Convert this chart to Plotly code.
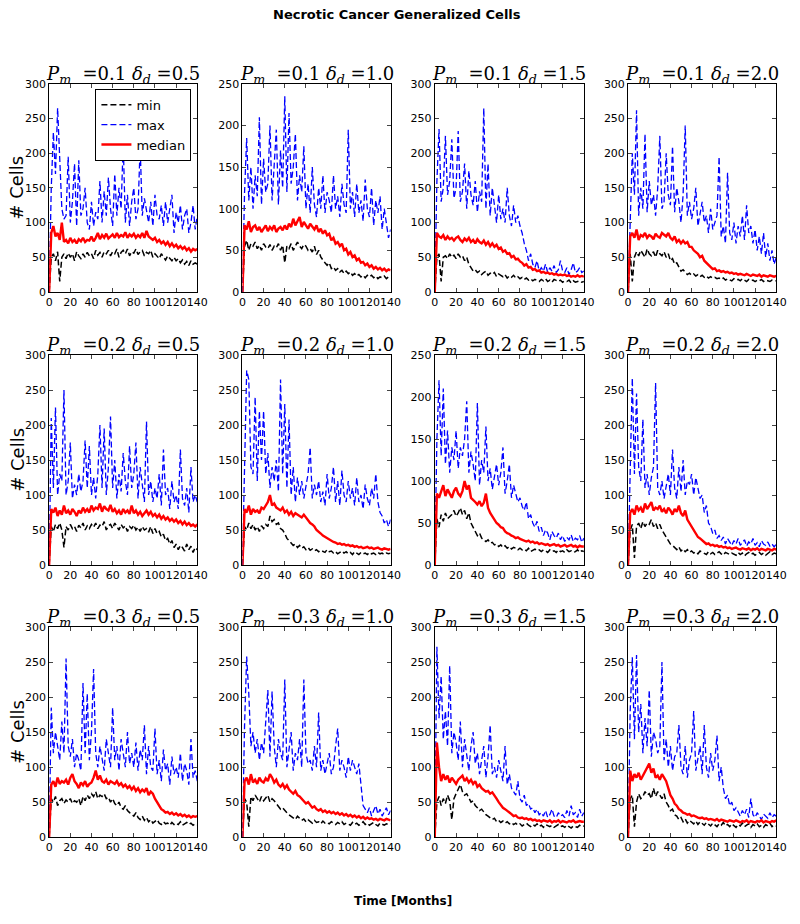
import plotly.graph_objects as go

months = list(range(0, 141, 2))

# ---------------- P_m = 0.1 ----------------
min_01_05 = [0, 50, 55, 45, 58, 15, 50, 55, 48, 56, 50, 55, 45, 58, 52, 48, 55, 50, 57, 52, 55, 48, 60, 53, 57, 50, 58, 55, 60, 52, 58, 55, 62, 50, 57, 60, 55, 62, 52, 58, 56, 62, 54, 58, 60, 52, 57, 55, 60, 50, 55, 52, 48, 55, 50, 46, 52, 48, 45, 50, 45, 48, 42, 46, 40, 44, 38, 45, 40, 42, 40]
max_01_05 = [0, 150, 230, 170, 265, 200, 120, 105, 110, 195, 100, 130, 185, 95, 190, 110, 120, 150, 100, 90, 130, 95, 115, 105, 160, 100, 145, 110, 165, 120, 95, 170, 110, 150, 120, 215, 100, 140, 95, 130, 150, 105, 120, 210, 110, 135, 115, 100, 130, 95, 140, 110, 105, 125, 95, 130, 100, 120, 140, 85, 115, 100, 125, 90, 110, 120, 85, 100, 125, 90, 110]
med_01_05 = [0, 85, 95, 80, 85, 75, 100, 72, 75, 70, 78, 72, 75, 70, 76, 73, 78, 72, 75, 74, 80, 73, 78, 85, 76, 82, 78, 84, 77, 80, 83, 78, 85, 79, 82, 80, 86, 78, 83, 80, 84, 78, 82, 79, 85, 78, 88, 80, 78, 75, 78, 72, 75, 70, 73, 68, 72, 66, 70, 65, 68, 63, 66, 62, 65, 60, 63, 58, 62, 60, 62]

min_01_10 = [0, 55, 62, 50, 58, 55, 60, 52, 56, 50, 58, 54, 52, 57, 50, 55, 53, 58, 50, 56, 35, 55, 52, 58, 50, 56, 60, 55, 52, 57, 55, 50, 52, 48, 55, 45, 50, 42, 38, 35, 32, 35, 28, 30, 26, 28, 24, 26, 22, 25, 22, 24, 20, 22, 19, 21, 18, 20, 17, 20, 18, 20, 17, 19, 16, 18, 17, 19, 16, 18, 18]
max_01_10 = [0, 120, 185, 110, 150, 100, 140, 115, 210, 105, 160, 120, 130, 200, 110, 150, 195, 105, 170, 125, 235, 120, 215, 130, 150, 190, 110, 140, 120, 175, 100, 130, 95, 150, 105, 90, 125, 100, 140, 95, 120, 110, 95, 140, 100, 115, 90, 130, 105, 95, 195, 100, 120, 90, 130, 95, 110, 85, 135, 100, 90, 125, 80, 110, 95, 115, 75, 100, 80, 65, 75]
med_01_10 = [0, 80, 75, 85, 72, 78, 80, 74, 78, 72, 76, 80, 73, 78, 75, 80, 72, 76, 78, 74, 80, 75, 82, 78, 88, 80, 85, 90, 78, 84, 80, 76, 82, 78, 75, 80, 72, 76, 70, 74, 68, 70, 62, 65, 58, 60, 55, 58, 50, 52, 45, 48, 42, 44, 38, 40, 35, 36, 32, 34, 30, 32, 28, 30, 27, 29, 26, 28, 25, 27, 26]

min_01_15 = [0, 50, 55, 15, 50, 52, 48, 55, 50, 53, 48, 55, 50, 52, 45, 50, 40, 35, 30, 32, 28, 30, 25, 28, 30, 24, 27, 25, 28, 22, 26, 24, 22, 25, 20, 23, 21, 24, 20, 22, 19, 21, 18, 20, 17, 19, 16, 18, 17, 15, 18, 16, 19, 15, 17, 14, 18, 16, 15, 17, 14, 16, 15, 17, 13, 16, 14, 15, 16, 14, 15]
max_01_15 = [0, 160, 235, 130, 150, 225, 140, 160, 220, 135, 150, 232, 130, 145, 185, 120, 175, 140, 125, 160, 115, 145, 130, 265, 120, 185, 110, 150, 125, 100, 140, 105, 120, 100, 150, 110, 95, 125, 100, 110, 95, 85, 70, 60, 45, 55, 40, 35, 45, 30, 35, 30, 40, 28, 35, 30, 38, 28, 32, 45, 30, 28, 35, 25, 32, 42, 28, 30, 35, 28, 30]
med_01_15 = [0, 85, 80, 78, 82, 75, 80, 76, 78, 74, 78, 80, 75, 72, 77, 74, 78, 72, 75, 70, 76, 72, 70, 74, 68, 72, 66, 70, 65, 68, 62, 64, 58, 60, 55, 56, 50, 52, 47, 48, 44, 42, 38, 40, 35, 36, 32, 33, 30, 31, 28, 29, 27, 28, 26, 27, 25, 26, 24, 25, 24, 25, 23, 24, 22, 23, 22, 24, 22, 23, 22]

min_01_20 = [0, 55, 15, 50, 58, 52, 60, 55, 50, 62, 55, 52, 58, 50, 60, 55, 52, 58, 50, 55, 45, 48, 40, 42, 35, 30, 32, 28, 25, 27, 24, 26, 23, 25, 22, 24, 21, 23, 20, 22, 20, 21, 19, 20, 18, 20, 17, 19, 18, 16, 19, 17, 18, 16, 19, 17, 15, 18, 16, 17, 15, 17, 16, 18, 15, 17, 16, 15, 17, 16, 16]
max_01_20 = [0, 110, 200, 140, 262, 110, 150, 120, 228, 115, 160, 125, 140, 110, 150, 225, 120, 130, 200, 140, 125, 210, 115, 150, 130, 100, 140, 240, 110, 130, 105, 120, 150, 95, 115, 130, 100, 110, 85, 120, 90, 100, 110, 195, 80, 95, 70, 172, 85, 75, 100, 70, 95, 80, 110, 75, 125, 85, 95, 70, 90, 60, 80, 55, 85, 50, 70, 45, 60, 40, 50]
med_01_20 = [0, 80, 85, 78, 90, 75, 82, 80, 85, 78, 82, 80, 76, 84, 80, 78, 85, 82, 80, 85, 78, 75, 80, 72, 75, 70, 74, 70, 72, 65, 65, 60, 58, 55, 50, 52, 45, 42, 38, 36, 33, 34, 30, 31, 29, 30, 28, 29, 27, 28, 26, 27, 25, 26, 25, 24, 26, 24, 23, 25, 24, 23, 25, 22, 24, 23, 22, 24, 23, 22, 23]

# ---------------- P_m = 0.2 ----------------
min_02_05 = [0, 55, 48, 58, 52, 60, 50, 25, 55, 50, 58, 52, 55, 48, 57, 53, 60, 50, 56, 52, 58, 54, 60, 52, 57, 55, 62, 50, 56, 58, 52, 60, 55, 50, 58, 53, 56, 48, 55, 52, 57, 50, 54, 48, 55, 50, 52, 47, 55, 45, 52, 45, 48, 40, 44, 35, 38, 30, 35, 25, 30, 22, 28, 25, 20, 30, 22, 27, 18, 25, 22]
max_02_05 = [0, 210, 110, 225, 100, 130, 120, 250, 100, 120, 175, 95, 115, 100, 130, 105, 120, 178, 110, 170, 100, 125, 95, 130, 200, 110, 195, 100, 140, 212, 110, 150, 95, 130, 105, 160, 120, 100, 170, 110, 130, 175, 95, 140, 115, 90, 205, 100, 120, 90, 110, 95, 130, 85, 165, 100, 110, 80, 120, 90, 100, 80, 165, 95, 85, 110, 75, 140, 90, 100, 90]
med_02_05 = [0, 80, 75, 82, 70, 78, 72, 85, 74, 78, 72, 80, 76, 70, 78, 74, 82, 76, 80, 75, 85, 78, 82, 80, 88, 76, 84, 80, 78, 86, 76, 80, 74, 78, 72, 80, 75, 78, 73, 85, 74, 78, 72, 76, 70, 74, 78, 72, 76, 70, 73, 68, 72, 66, 70, 65, 68, 63, 66, 62, 65, 60, 63, 58, 62, 57, 60, 56, 58, 55, 58]

min_02_10 = [0, 55, 50, 60, 52, 58, 50, 55, 48, 56, 52, 58, 55, 70, 62, 65, 58, 60, 52, 50, 45, 38, 35, 32, 28, 30, 25, 28, 24, 26, 22, 25, 21, 23, 20, 22, 19, 21, 20, 18, 22, 19, 20, 17, 19, 16, 18, 20, 17, 19, 16, 18, 15, 19, 17, 15, 18, 16, 17, 15, 18, 16, 17, 15, 18, 16, 17, 15, 17, 16, 17]
max_02_10 = [0, 150, 278, 265, 140, 130, 240, 120, 220, 150, 220, 130, 160, 110, 140, 120, 150, 105, 265, 130, 230, 110, 208, 100, 140, 90, 125, 100, 120, 95, 110, 130, 168, 95, 115, 100, 120, 90, 105, 85, 130, 95, 110, 140, 90, 120, 85, 135, 100, 90, 120, 95, 110, 85, 125, 90, 100, 80, 115, 95, 85, 110, 95, 130, 90, 75, 70, 60, 65, 55, 65]
med_02_10 = [0, 80, 75, 85, 72, 80, 76, 78, 74, 82, 80, 85, 90, 100, 85, 88, 82, 80, 78, 82, 75, 78, 72, 76, 70, 74, 72, 70, 68, 72, 68, 65, 60, 58, 55, 50, 48, 45, 42, 40, 38, 36, 35, 33, 32, 30, 31, 29, 30, 28, 29, 27, 28, 26, 27, 25, 26, 24, 25, 26, 24, 25, 23, 24, 25, 23, 22, 24, 23, 22, 23]

min_02_15 = [0, 55, 45, 60, 52, 62, 55, 58, 60, 65, 58, 62, 68, 60, 65, 55, 62, 50, 45, 40, 35, 38, 32, 30, 28, 30, 26, 27, 24, 25, 22, 24, 21, 23, 20, 22, 19, 21, 20, 18, 20, 18, 19, 17, 20, 16, 18, 19, 17, 18, 16, 18, 17, 15, 18, 16, 17, 15, 18, 16, 17, 15, 18, 16, 17, 15, 16, 18, 15, 17, 16]
max_02_15 = [0, 150, 220, 130, 210, 120, 160, 110, 140, 125, 160, 115, 140, 130, 150, 195, 110, 135, 120, 100, 193, 95, 125, 110, 165, 100, 115, 90, 105, 120, 95, 110, 140, 85, 100, 120, 80, 95, 85, 75, 80, 70, 65, 75, 55, 60, 50, 45, 52, 40, 45, 35, 42, 38, 30, 40, 35, 32, 38, 30, 35, 28, 33, 30, 36, 28, 32, 30, 35, 27, 32]
med_02_15 = [0, 85, 80, 88, 95, 82, 90, 85, 80, 88, 92, 85, 82, 88, 100, 90, 95, 80, 78, 75, 72, 76, 70, 74, 85, 68, 62, 58, 55, 50, 48, 45, 44, 40, 38, 37, 35, 34, 32, 33, 31, 30, 29, 28, 29, 27, 28, 26, 27, 25, 26, 25, 24, 25, 23, 24, 25, 23, 24, 22, 23, 24, 22, 23, 24, 22, 23, 21, 23, 22, 22]

min_02_20 = [0, 50, 58, 10, 55, 60, 52, 62, 55, 60, 58, 65, 55, 60, 52, 58, 50, 45, 40, 35, 30, 28, 25, 22, 26, 20, 23, 19, 22, 18, 20, 17, 19, 16, 20, 18, 17, 15, 19, 16, 18, 15, 17, 19, 16, 14, 18, 16, 15, 17, 16, 14, 18, 15, 17, 13, 16, 18, 15, 17, 14, 16, 18, 15, 17, 14, 16, 19, 15, 17, 16]
max_02_20 = [0, 150, 267, 130, 245, 140, 120, 208, 110, 130, 100, 125, 140, 260, 110, 100, 120, 95, 115, 130, 100, 165, 110, 95, 140, 105, 150, 100, 120, 115, 130, 100, 125, 110, 95, 100, 75, 85, 60, 55, 45, 50, 38, 42, 35, 40, 30, 38, 33, 28, 35, 30, 38, 28, 32, 36, 27, 33, 30, 38, 28, 32, 26, 35, 30, 28, 33, 27, 30, 26, 30]
med_02_20 = [0, 75, 80, 72, 85, 78, 82, 75, 88, 80, 85, 90, 78, 82, 80, 85, 76, 80, 74, 82, 78, 72, 80, 76, 85, 74, 70, 78, 65, 60, 55, 50, 45, 40, 38, 35, 33, 30, 31, 28, 29, 27, 28, 26, 27, 25, 26, 24, 25, 23, 24, 25, 23, 22, 24, 23, 22, 24, 21, 23, 22, 24, 21, 23, 22, 21, 23, 22, 21, 23, 22]

# ---------------- P_m = 0.3 ----------------
min_03_05 = [0, 55, 50, 58, 45, 52, 55, 48, 53, 50, 55, 48, 52, 50, 55, 45, 58, 52, 60, 55, 62, 58, 65, 55, 60, 58, 62, 55, 57, 50, 55, 48, 45, 50, 42, 40, 45, 38, 35, 32, 30, 35, 28, 25, 30, 24, 28, 22, 25, 20, 23, 25, 20, 18, 22, 19, 20, 17, 21, 18, 20, 18, 22, 17, 19, 21, 18, 20, 17, 19, 18]
max_03_05 = [0, 185, 120, 150, 130, 110, 165, 120, 255, 130, 115, 140, 100, 120, 110, 95, 220, 120, 205, 110, 150, 240, 120, 100, 130, 110, 95, 140, 120, 100, 185, 110, 130, 95, 140, 120, 100, 150, 105, 120, 100, 135, 95, 125, 110, 160, 90, 130, 100, 95, 155, 90, 110, 80, 125, 95, 105, 75, 115, 90, 100, 85, 120, 80, 105, 95, 75, 140, 85, 95, 80]
med_03_05 = [0, 75, 80, 72, 85, 76, 80, 78, 82, 75, 85, 90, 80, 76, 70, 78, 74, 80, 72, 76, 78, 85, 95, 82, 88, 80, 78, 82, 75, 80, 78, 76, 80, 74, 77, 72, 75, 70, 73, 68, 72, 66, 70, 64, 68, 65, 70, 60, 65, 62, 55, 50, 45, 40, 38, 35, 36, 33, 35, 32, 34, 31, 33, 30, 32, 29, 31, 28, 30, 29, 30]

min_03_10 = [0, 55, 50, 15, 58, 52, 60, 55, 50, 58, 52, 56, 60, 50, 55, 52, 48, 45, 40, 42, 38, 35, 32, 30, 28, 25, 30, 27, 24, 26, 22, 25, 23, 20, 24, 21, 22, 19, 23, 20, 21, 19, 22, 20, 18, 21, 19, 22, 18, 20, 19, 17, 21, 18, 20, 17, 19, 22, 18, 20, 17, 19, 21, 18, 16, 20, 18, 17, 19, 18, 19]
max_03_10 = [0, 160, 258, 205, 130, 150, 120, 140, 110, 135, 120, 160, 210, 115, 208, 130, 100, 140, 120, 110, 225, 100, 130, 150, 95, 120, 110, 140, 100, 225, 120, 105, 110, 95, 130, 100, 178, 95, 110, 90, 105, 120, 90, 100, 130, 155, 95, 110, 100, 85, 115, 95, 110, 100, 90, 105, 70, 45, 40, 35, 42, 30, 38, 45, 33, 40, 30, 36, 42, 32, 38]
med_03_10 = [0, 80, 85, 75, 90, 78, 82, 76, 85, 80, 78, 84, 80, 90, 85, 78, 82, 75, 72, 76, 70, 74, 68, 65, 62, 66, 60, 58, 55, 52, 48, 50, 45, 42, 44, 40, 38, 40, 36, 38, 35, 37, 34, 36, 33, 35, 32, 34, 31, 33, 30, 32, 29, 31, 28, 30, 27, 29, 26, 28, 26, 27, 25, 26, 24, 26, 25, 24, 26, 25, 24]

min_03_15 = [0, 50, 58, 45, 55, 48, 60, 52, 25, 55, 62, 70, 75, 65, 60, 62, 55, 50, 52, 45, 42, 38, 40, 35, 32, 30, 28, 25, 27, 22, 24, 21, 23, 20, 22, 19, 21, 18, 20, 17, 19, 16, 18, 20, 17, 15, 18, 16, 19, 15, 17, 14, 18, 16, 15, 17, 14, 16, 18, 15, 16, 14, 17, 15, 13, 16, 15, 14, 17, 15, 16]
max_03_15 = [0, 272, 170, 230, 140, 180, 130, 245, 120, 150, 135, 110, 165, 100, 140, 120, 95, 130, 150, 105, 120, 90, 110, 130, 85, 115, 160, 90, 100, 85, 110, 95, 80, 130, 75, 90, 70, 65, 60, 80, 55, 50, 60, 45, 48, 40, 42, 35, 40, 32, 35, 30, 38, 28, 32, 40, 30, 28, 35, 30, 32, 28, 38, 30, 45, 32, 35, 28, 40, 30, 35]
med_03_15 = [0, 135, 100, 80, 90, 82, 88, 78, 85, 80, 76, 82, 85, 88, 80, 84, 78, 82, 76, 80, 72, 75, 70, 68, 65, 66, 62, 64, 60, 55, 50, 45, 42, 40, 38, 35, 33, 30, 31, 28, 27, 28, 26, 27, 25, 26, 24, 25, 23, 24, 22, 24, 23, 22, 24, 21, 23, 22, 24, 21, 23, 22, 21, 23, 22, 24, 21, 22, 23, 22, 22]

min_03_20 = [0, 55, 60, 15, 50, 62, 55, 58, 65, 60, 62, 55, 70, 58, 65, 60, 55, 62, 50, 45, 38, 40, 32, 30, 25, 28, 22, 26, 20, 24, 21, 19, 23, 18, 22, 20, 17, 21, 19, 16, 20, 18, 15, 19, 17, 21, 16, 18, 15, 19, 17, 14, 18, 16, 20, 15, 17, 19, 14, 18, 16, 19, 15, 17, 14, 18, 16, 20, 15, 17, 16]
max_03_20 = [0, 180, 257, 140, 260, 150, 190, 120, 170, 130, 210, 115, 150, 140, 120, 130, 250, 110, 140, 100, 130, 95, 115, 120, 160, 100, 90, 130, 85, 110, 120, 180, 95, 110, 130, 90, 160, 100, 85, 120, 95, 110, 145, 80, 100, 70, 55, 60, 45, 50, 38, 42, 35, 30, 38, 32, 40, 28, 55, 32, 28, 35, 30, 25, 33, 30, 27, 35, 28, 32, 30]
med_03_20 = [0, 95, 80, 90, 85, 92, 82, 88, 95, 100, 105, 92, 98, 85, 88, 82, 90, 85, 80, 70, 60, 55, 48, 45, 40, 38, 35, 34, 32, 33, 30, 31, 29, 28, 27, 28, 26, 27, 25, 26, 25, 24, 26, 23, 25, 24, 23, 22, 24, 23, 22, 24, 23, 21, 23, 22, 24, 21, 23, 22, 21, 23, 22, 24, 21, 23, 22, 21, 23, 22, 24]

pm_labels = ["0.1", "0.2", "0.3"]
dd_labels = ["0.5", "1.0", "1.5", "2.0"]
y_tops = [[300, 250, 300, 300], [300, 300, 250, 300], [300, 300, 300, 300]]
x_ticks = [0, 20, 40, 60, 80, 100, 120, 140]

grid = [
    [(min_01_05, max_01_05, med_01_05), (min_01_10, max_01_10, med_01_10),
     (min_01_15, max_01_15, med_01_15), (min_01_20, max_01_20, med_01_20)],
    [(min_02_05, max_02_05, med_02_05), (min_02_10, max_02_10, med_02_10),
     (min_02_15, max_02_15, med_02_15), (min_02_20, max_02_20, med_02_20)],
    [(min_03_05, max_03_05, med_03_05), (min_03_10, max_03_10, med_03_10),
     (min_03_15, max_03_15, med_03_15), (min_03_20, max_03_20, med_03_20)],
]

W, H = 800, 924
col_px = [(46, 197), (243, 394), (439, 591), (636, 787)]
row_px = [(79, 290), (354, 567), (630, 843)]

fig = go.Figure()
layout = dict(
    width=W, height=H,
    margin=dict(l=0, r=0, t=0, b=0),
    paper_bgcolor="white", plot_bgcolor="white",
    showlegend=True,
    legend=dict(x=191 / W, xanchor="right", y=1 - 84 / H, yanchor="top",
                bgcolor="white", bordercolor="black", borderwidth=1,
                font=dict(family="DejaVu Sans", size=13, color="black"),
                itemwidth=30, tracegroupgap=0),
)
annotations = []
tickfont = dict(family="DejaVu Sans", size=11, color="black")
NB = "\u00a0"

k = 0
for r in range(3):
    for c in range(4):
        k += 1
        xa = "x" if k == 1 else f"x{k}"
        ya = "y" if k == 1 else f"y{k}"
        mins, maxs, meds = grid[r][c]
        first = (k == 1)
        fig.add_trace(go.Scatter(x=months, y=mins, mode="lines", name="min",
                                 line=dict(color="black", width=1.5, dash="6px,3px"),
                                 xaxis=xa, yaxis=ya, showlegend=first))
        fig.add_trace(go.Scatter(x=months, y=maxs, mode="lines", name="max",
                                 line=dict(color="#0000ff", width=1.3, dash="6px,3px"),
                                 xaxis=xa, yaxis=ya, showlegend=first))
        fig.add_trace(go.Scatter(x=months, y=meds, mode="lines", name="median",
                                 line=dict(color="#ff0000", width=2.4),
                                 xaxis=xa, yaxis=ya, showlegend=first))
        x0, x1 = col_px[c]
        y0, y1 = row_px[r]
        xdom = [x0 / W, x1 / W]
        ydom = [1 - y1 / H, 1 - y0 / H]
        ytop = y_tops[r][c]
        layout["xaxis" if k == 1 else f"xaxis{k}"] = dict(
            domain=xdom, anchor=ya, range=[0, 140], tickvals=x_ticks,
            tickangle=0, ticks="inside", ticklen=4, mirror="allticks", showline=True,
            linecolor="black", linewidth=1, showgrid=False, zeroline=False,
            tickfont=tickfont)
        layout["yaxis" if k == 1 else f"yaxis{k}"] = dict(
            domain=ydom, anchor=xa, range=[0, ytop],
            tickvals=list(range(0, ytop + 1, 50)),
            ticks="inside", ticklen=4, mirror="allticks", showline=True,
            linecolor="black", linewidth=1, showgrid=False, zeroline=False,
            tickfont=tickfont)
        title = (f"<i>P</i><sub><i>m</i></sub>{NB}{NB}={pm_labels[r]}{NB}"
                 f"<i>δ</i><sub><i>d</i></sub>{NB}={dd_labels[c]}")
        annotations.append(dict(
            text=title,
            x=(xdom[0] + xdom[1]) / 2, y=ydom[1], xref="paper", yref="paper",
            xanchor="center", yanchor="bottom", yshift=-5, showarrow=False,
            font=dict(family="DejaVu Serif", size=18, color="black")))

for r in range(3):
    y0, y1 = row_px[r]
    annotations.append(dict(text="# Cells", x=13 / W, y=1 - (y0 + y1) / 2 / H,
                            xref="paper", yref="paper", textangle=-90,
                            xanchor="center", yanchor="middle", showarrow=False,
                            font=dict(family="DejaVu Sans", size=18, color="black")))

annotations.append(dict(text="<b>Necrotic Cancer Generalized Cells</b>", x=0.5, y=1 - 9 / H,
                        xref="paper", yref="paper", xanchor="center", yanchor="middle",
                        showarrow=False, font=dict(family="DejaVu Sans", size=13, color="black")))
annotations.append(dict(text="<b>Time [Months]</b>", x=407 / W, y=1 - 908 / H,
                        xref="paper", yref="paper", xanchor="center", yanchor="middle",
                        showarrow=False, font=dict(family="DejaVu Sans", size=12, color="black")))

layout["annotations"] = annotations
fig.update_layout(**layout)
fig.write_html("out.html", config={"displayModeBar": False},
               post_script="document.body.style.margin='0px';")
